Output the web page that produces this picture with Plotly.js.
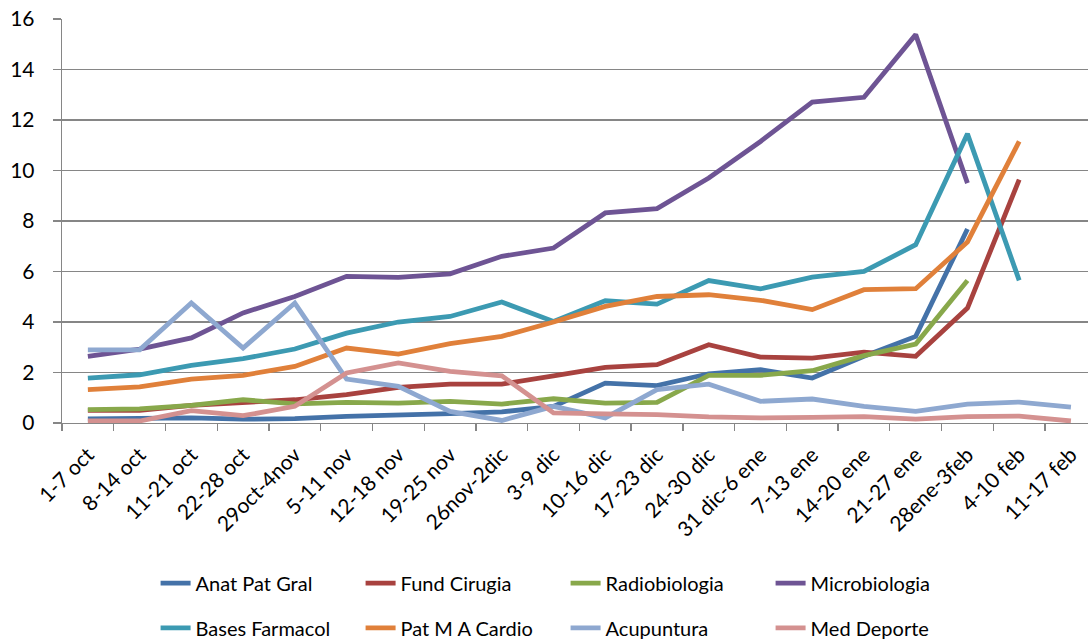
<!DOCTYPE html>
<html>
<head>
<meta charset="utf-8">
<script src="https://cdn.plot.ly/plotly-3.0.1.min.js"></script>
<style>html,body{margin:0;padding:0;background:#fff;overflow:hidden;}#chart{width:1088px;height:640px;}</style>
</head>
<body>
<div id="chart"></div>
<script>
const categories = ["1-7 oct","8-14 oct","11-21 oct","22-28 oct","29oct-4nov","5-11 nov","12-18 nov","19-25 nov","26nov-2dic","3-9 dic","10-16 dic","17-23 dic","24-30 dic","31 dic-6 ene","7-13 ene","14-20 ene","21-27 ene","28ene-3feb","4-10 feb","11-17 feb"];

const anatPatGral   = [0.16,0.17,0.2,0.15,0.17,0.26,0.3,0.37,0.44,0.66,1.58,1.48,1.95,2.11,1.78,2.64,3.43,7.68,null,null];
const fundCirugia   = [0.5,0.5,0.7,0.8,0.92,1.12,1.41,1.54,1.54,1.87,2.2,2.31,3.1,2.61,2.57,2.81,2.64,4.55,9.64,null];
const radiobiologia = [0.53,0.56,0.7,0.92,0.76,0.82,0.79,0.86,0.75,0.96,0.79,0.82,1.89,1.89,2.07,2.67,3.13,5.64,null,null];
const microbiologia = [2.64,2.93,3.37,4.36,5.01,5.81,5.77,5.91,6.6,6.93,8.32,8.49,9.7,11.15,12.71,12.9,15.38,9.5,null,null];
const basesFarmacol = [1.78,1.91,2.28,2.55,2.93,3.56,4.0,4.22,4.79,4.02,4.84,4.71,5.64,5.31,5.78,6.0,7.06,11.45,5.65,null];
const patMACardio   = [1.32,1.43,1.74,1.89,2.24,2.97,2.73,3.14,3.43,4.0,4.62,5.01,5.08,4.86,4.49,5.28,5.32,7.17,11.15,null];
const acupuntura    = [2.9,2.9,4.75,2.97,4.75,1.74,1.45,0.46,0.1,0.66,0.2,1.32,1.54,0.86,0.95,0.66,0.46,0.75,0.83,0.63];
const medDeporte    = [0.08,0.08,0.49,0.29,0.66,1.98,2.38,2.04,1.87,0.4,0.36,0.33,0.24,0.2,0.22,0.25,0.15,0.25,0.27,0.08];

const seriesNames = ["Anat Pat Gral","Fund Cirugia","Radiobiologia","Microbiologia","Bases Farmacol","Pat M A Cardio","Acupuntura","Med Deporte"];
const seriesData = [anatPatGral,fundCirugia,radiobiologia,microbiologia,basesFarmacol,patMACardio,acupuntura,medDeporte];
const seriesColors = ["#4472A8","#A8423F","#88A84B","#6E5494","#3C9AB2","#E0803A","#8EA8D0","#D49190"];

const FONT = "Lato, 'Open Sans', sans-serif";

const traces = seriesNames.map((nm, i) => ({
  type: "scatter",
  mode: "lines",
  x: categories,
  y: seriesData[i],
  name: nm,
  line: {color: seriesColors[i], width: 4.8},
  connectgaps: false,
  legend: i < 4 ? "legend" : "legend2",
  hoverinfo: "skip"
}));

const legendCommon = {
  orientation: "h",
  xref: "container",
  yref: "container",
  xanchor: "left",
  yanchor: "middle",
  x: 0.143,
  font: {family: FONT, size: 20, color: "#000"},
  entrywidth: 160,
  entrywidthmode: "pixels",
  bgcolor: "rgba(0,0,0,0)"
};

const layout = {
  width: 1088,
  height: 640,
  margin: {l: 62, r: 0, t: 19, b: 217},
  paper_bgcolor: "#fff",
  plot_bgcolor: "#fff",
  font: {family: FONT, color: "#000"},
  showlegend: true,
  xaxis: {
    type: "category",
    categoryorder: "array",
    categoryarray: categories,
    range: [-0.5, 19.33],
    automargin: false,
    showgrid: false,
    zeroline: false,
    showline: true,
    linecolor: "#868686",
    linewidth: 1.3,
    ticks: "outside",
    tickson: "boundaries",
    ticklen: 7,
    tickcolor: "#868686",
    tickwidth: 1.3,
    tickangle: -45,
    ticklabelstandoff: 10,
    tickfont: {family: FONT, size: 21, color: "#000"},
    fixedrange: true
  },
  yaxis: {
    range: [0, 16],
    dtick: 2,
    tick0: 0,
    automargin: false,
    showgrid: true,
    gridcolor: "#868686",
    gridwidth: 1.3,
    zeroline: false,
    showline: true,
    linecolor: "#868686",
    linewidth: 1.3,
    ticks: "outside",
    ticklen: 8,
    tickcolor: "#868686",
    tickwidth: 1.3,
    tickfont: {family: FONT, size: 21, color: "#000"},
    ticklabelstandoff: 14,
    fixedrange: true
  },
  legend: Object.assign({}, legendCommon, {y: 0.089}),
  legend2: Object.assign({}, legendCommon, {y: 0.019})
};

Plotly.newPlot("chart", traces, layout, {displayModeBar: false, staticPlot: true});
</script>
</body>
</html>
